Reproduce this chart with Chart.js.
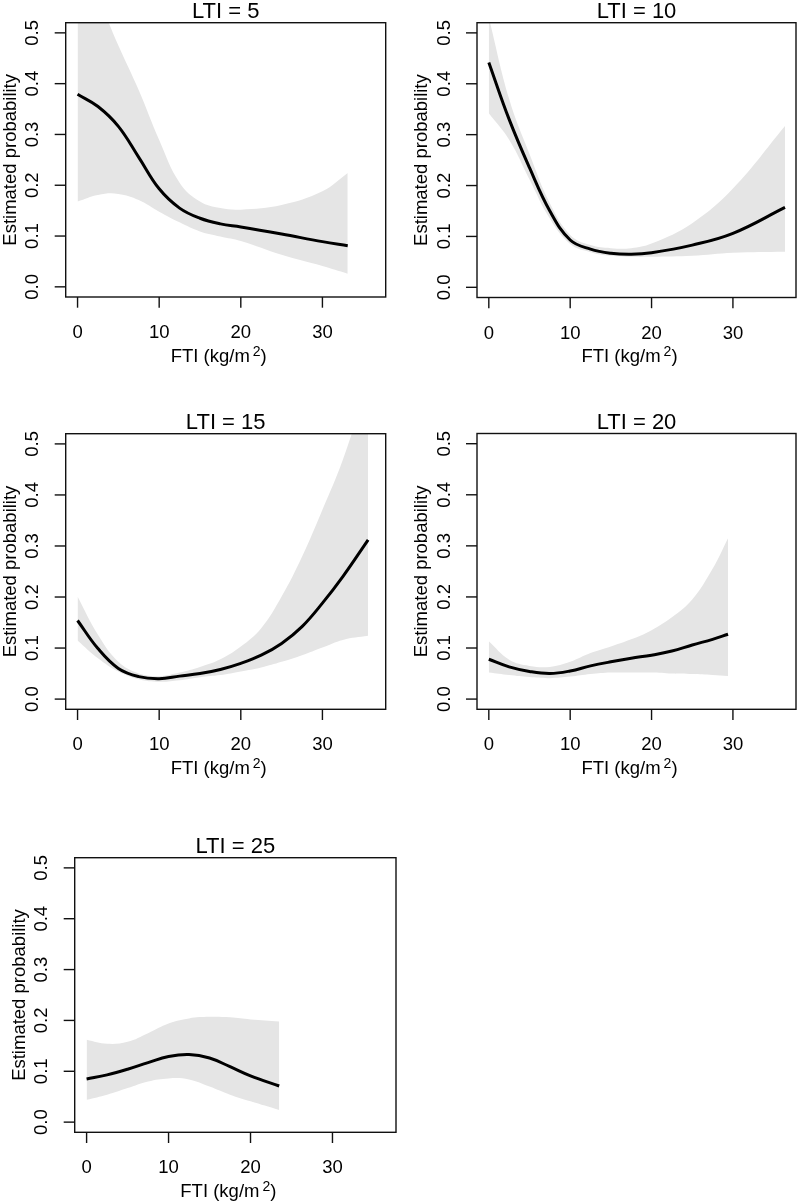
<!DOCTYPE html>
<html>
<head>
<meta charset="utf-8">
<script src="https://cdn.jsdelivr.net/npm/chart.js@4"></script>
<style>
  body { margin: 0; background: #fff; }
  #wrap { position: relative; width: 800px; height: 1202px; overflow: hidden; }
  canvas { position: absolute; }
</style>
</head>
<body>
<div id="wrap">
  <canvas id="p5" width="400" height="400" style="left:0;top:0"></canvas>
  <canvas id="p10" width="400" height="400" style="left:400px;top:0"></canvas>
  <canvas id="p15" width="400" height="400" style="left:0;top:400px"></canvas>
  <canvas id="p20" width="400" height="400" style="left:400px;top:400px"></canvas>
  <canvas id="p25" width="400" height="402" style="left:0;top:800px"></canvas>
</div>
<script>
// FTI values and estimated probability (with lower / upper band) per LTI level
const fti5 = [0, 2.5, 5, 7.5, 10, 12.5, 15, 17.5, 20, 25, 30, 33.1];
const est5 = [0.379, 0.355, 0.316, 0.255, 0.193, 0.155, 0.135, 0.124, 0.118, 0.104, 0.089, 0.081];
const lo5  = [0.168, 0.181, 0.183, 0.171, 0.148, 0.127, 0.109, 0.099, 0.090, 0.063, 0.041, 0.026];
const hi5  = [0.66, 0.57, 0.475, 0.387, 0.289, 0.205, 0.168, 0.155, 0.152, 0.161, 0.188, 0.224];

const fti10 = [0, 2.5, 5, 7.5, 10, 12.5, 15, 17.5, 20, 25, 30, 36.4];
const est10 = [0.442, 0.33, 0.235, 0.15, 0.093, 0.075, 0.067, 0.065, 0.068, 0.083, 0.106, 0.157];
const lo10  = [0.342, 0.29, 0.212, 0.135, 0.085, 0.069, 0.062, 0.060, 0.060, 0.062, 0.068, 0.070];
const hi10  = [0.53, 0.37, 0.262, 0.165, 0.103, 0.083, 0.077, 0.077, 0.086, 0.126, 0.194, 0.317];

const fti15 = [0, 2.5, 5, 7.5, 10, 12.5, 15, 17.5, 20, 22.5, 25, 27.5, 30, 32.5, 35.6];
const est15 = [0.154, 0.099, 0.060, 0.044, 0.040, 0.045, 0.050, 0.058, 0.070, 0.086, 0.109, 0.142, 0.188, 0.240, 0.312];
const lo15  = [0.115, 0.080, 0.054, 0.039, 0.034, 0.037, 0.043, 0.047, 0.054, 0.062, 0.073, 0.086, 0.101, 0.116, 0.124];
const hi15  = [0.201, 0.126, 0.073, 0.050, 0.045, 0.052, 0.063, 0.078, 0.103, 0.139, 0.201, 0.279, 0.371, 0.469, 0.62];

const fti20 = [0, 2.5, 5, 7.5, 10, 12.5, 15, 17.5, 20, 22.5, 25, 27.5, 29.4];
const est20 = [0.078, 0.063, 0.054, 0.050, 0.055, 0.065, 0.073, 0.080, 0.086, 0.094, 0.106, 0.117, 0.127];
const lo20  = [0.052, 0.047, 0.043, 0.041, 0.044, 0.049, 0.052, 0.052, 0.052, 0.050, 0.049, 0.047, 0.045];
const hi20  = [0.113, 0.077, 0.065, 0.063, 0.073, 0.090, 0.103, 0.117, 0.135, 0.160, 0.195, 0.255, 0.315];

const fti25 = [0, 2.5, 5, 7.5, 10, 12.5, 15, 17.5, 20, 23.5];
const est25 = [0.085, 0.093, 0.104, 0.117, 0.129, 0.133, 0.126, 0.109, 0.091, 0.071];
const lo25  = [0.044, 0.054, 0.067, 0.080, 0.086, 0.084, 0.070, 0.054, 0.041, 0.024];
const hi25  = [0.162, 0.154, 0.158, 0.175, 0.194, 0.204, 0.207, 0.206, 0.202, 0.198];

const xTicks = [0, 10, 20, 30];
const yTicks = [0, 0.1, 0.2, 0.3, 0.4, 0.5];

const FONT = '"Liberation Sans", Arial, Helvetica, sans-serif';
const BAND = '#e5e5e5';

const panels = [
  { id: 'p5',  title: 'LTI = 5',  x: fti5,  est: est5,  lo: lo5,  hi: hi5,  pad: { left: 65.7, top: 22.7, right: 14.3, bottom: 103 } },
  { id: 'p10', title: 'LTI = 10', x: fti10, est: est10, lo: lo10, hi: hi10, pad: { left: 77, top: 22.7, right: 4, bottom: 102.5 } },
  { id: 'p15', title: 'LTI = 15', x: fti15, est: est15, lo: lo15, hi: hi15, pad: { left: 65.7, top: 33.7, right: 14.3, bottom: 90.7 } },
  { id: 'p20', title: 'LTI = 20', x: fti20, est: est20, lo: lo20, hi: hi20, pad: { left: 77, top: 33.5, right: 4, bottom: 90.7 } },
  { id: 'p25', title: 'LTI = 25', x: fti25, est: est25, lo: lo25, hi: hi25, pad: { left: 74.7, top: 57.7, right: 4, bottom: 69.7 } }
];

// box, ticks and labels drawn in the style of base R graphics
const rFrame = {
  id: 'rFrame',
  afterDraw(chart, args, opts) {
    const { ctx, chartArea: a, scales: { x, y } } = chart;
    const cx = (a.left + a.right) / 2;
    const cy = (a.top + a.bottom) / 2;
    ctx.save();
    ctx.strokeStyle = '#111';
    ctx.fillStyle = '#000';
    ctx.lineWidth = 1.4;
    ctx.strokeRect(a.left, a.top, a.right - a.left, a.bottom - a.top);

    ctx.font = '18.5px ' + FONT;
    ctx.textBaseline = 'alphabetic';
    ctx.textAlign = 'center';
    xTicks.forEach(v => {
      const px = x.getPixelForValue(v);
      ctx.beginPath(); ctx.moveTo(px, a.bottom); ctx.lineTo(px, a.bottom + 10.7); ctx.stroke();
      ctx.fillText(String(v), px, a.bottom + 41);
    });
    yTicks.forEach(v => {
      const py = y.getPixelForValue(v);
      ctx.beginPath(); ctx.moveTo(a.left - 11, py); ctx.lineTo(a.left, py); ctx.stroke();
      ctx.save();
      ctx.translate(a.left - 27.4, py);
      ctx.rotate(-Math.PI / 2);
      ctx.fillText(v.toFixed(1), 0, 0);
      ctx.restore();
    });

    // y axis title
    ctx.save();
    ctx.translate(a.left - 50, cy);
    ctx.rotate(-Math.PI / 2);
    ctx.fillText('Estimated probability', 0, 0);
    ctx.restore();

    // x axis title with superscript
    ctx.textAlign = 'left';
    const base = a.bottom + 64.7;
    const p1 = 'FTI (kg/m';
    const w1 = ctx.measureText(p1).width;
    ctx.font = '14px ' + FONT;
    const w2 = ctx.measureText('2').width;
    ctx.font = '18.5px ' + FONT;
    const w3 = ctx.measureText(')').width;
    let sx = cx - 7 - (w1 + 3 + w2 + w3) / 2;
    ctx.fillText(p1, sx, base);
    sx += w1 + 3;
    ctx.font = '14px ' + FONT;
    ctx.fillText('2', sx, base - 6);
    sx += w2;
    ctx.font = '18.5px ' + FONT;
    ctx.fillText(')', sx, base);

    // panel title
    ctx.font = '22px ' + FONT;
    ctx.textAlign = 'center';
    ctx.fillText(opts.title, cx, a.top - 4.5);
    ctx.restore();
  }
};

panels.forEach(p => {
  const pts = vals => p.x.map((v, i) => ({ x: v, y: vals[i] }));
  new Chart(document.getElementById(p.id), {
    type: 'line',
    data: {
      datasets: [
        { data: pts(p.est), borderColor: '#000', borderWidth: 3, fill: false,
          pointRadius: 0, tension: 0.4, order: 0 },
        { data: pts(p.hi), borderWidth: 0, borderColor: 'rgba(0,0,0,0)', backgroundColor: BAND,
          fill: '+1', pointRadius: 0, tension: 0.4, order: 1 },
        { data: pts(p.lo), borderWidth: 0, borderColor: 'rgba(0,0,0,0)', fill: false,
          pointRadius: 0, tension: 0.4, order: 2 }
      ]
    },
    options: {
      responsive: false,
      animation: false,
      events: [],
      layout: { padding: p.pad },
      scales: {
        x: { type: 'linear', min: -1.452, max: 37.752, display: false },
        y: { type: 'linear', min: -0.02, max: 0.52, display: false }
      },
      plugins: {
        legend: { display: false },
        tooltip: { enabled: false },
        filler: { drawTime: 'beforeDatasetsDraw' },
        rFrame: { title: p.title }
      }
    },
    plugins: [rFrame]
  });
});
</script>
</body>
</html>
